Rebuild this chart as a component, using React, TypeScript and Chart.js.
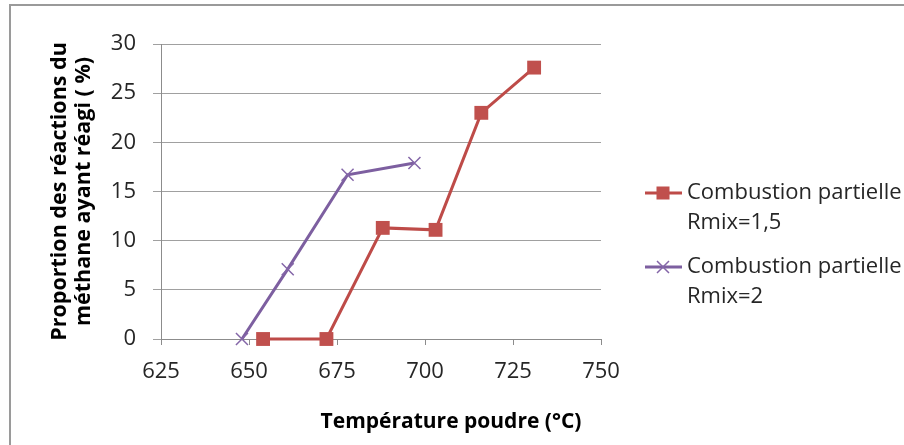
import React, { useEffect, useRef } from "react";
import { Chart, registerables } from "chart.js";

Chart.register(...registerables);

// ---- data ----
const xAxisTitle = "Température poudre (°C)";
const yAxisTitle = ["Proportion des réactions du", "méthane ayant réagi ( %)"];
const seriesNames = [
  ["Combustion partielle", "Rmix=1,5"],
  ["Combustion partielle", "Rmix=2"],
];
const tempRmix15 = [654, 672, 688, 703, 716, 731];
const propRmix15 = [0, 0, 11.3, 11.1, 23.0, 27.6];
const tempRmix2 = [648, 661, 678, 697];
const propRmix2 = [0, 7.1, 16.7, 17.9];
const xTicksRange = [625, 750, 25];
const yTicksRange = [0, 30, 5];

const FONT = '"Open Sans", sans-serif';

export default function App() {
  const ref = useRef<HTMLCanvasElement>(null);

  useEffect(() => {
    const canvas = ref.current;
    if (!canvas) return;

    const chromePlugin = {
      id: "chrome",
      beforeDraw(chart: any) {
        const ctx = chart.ctx;
        ctx.save();
        ctx.fillStyle = "#ffffff";
        ctx.fillRect(0, 0, chart.width, chart.height);
        ctx.strokeStyle = "#9a9a9a";
        ctx.lineWidth = 2;
        ctx.strokeRect(10, 5, 1200, 1200);
        ctx.restore();
      },
      afterDraw(chart: any) {
        const ctx = chart.ctx;
        ctx.save();
        // legend
        const rows = [193, 267];
        chart.data.datasets.forEach((ds: any, i: number) => {
          const y = rows[i];
          ctx.strokeStyle = ds.borderColor;
          ctx.lineWidth = ds.borderWidth;
          ctx.beginPath();
          ctx.moveTo(645, y);
          ctx.lineTo(682, y);
          ctx.stroke();
          const cx = 663;
          if (ds.pointStyle === "rect") {
            ctx.fillStyle = ds.pointBackgroundColor;
            ctx.fillRect(cx - 6.5, y - 6.5, 13, 13);
          } else {
            ctx.strokeStyle = ds.pointBorderColor;
            ctx.lineWidth = ds.pointBorderWidth;
            ctx.beginPath();
            ctx.moveTo(cx - 6, y - 6);
            ctx.lineTo(cx + 6, y + 6);
            ctx.moveTo(cx - 6, y + 6);
            ctx.lineTo(cx + 6, y - 6);
            ctx.stroke();
          }
          ctx.fillStyle = "#262626";
          ctx.font = `22px ${FONT}`;
          ctx.textAlign = "left";
          ctx.textBaseline = "middle";
          seriesNames[i].forEach((line, k) => {
            ctx.fillText(line, 687, y + k * 30);
          });
        });
        // x axis title
        ctx.fillStyle = "#000000";
        ctx.font = `bold 21px ${FONT}`;
        ctx.textAlign = "center";
        ctx.textBaseline = "middle";
        ctx.fillText(xAxisTitle, 451, 422);
        ctx.restore();
      },
    };

    const chart = new Chart(canvas, {
      type: "line",
      data: {
        datasets: [
          {
            label: seriesNames[0].join(" "),
            data: tempRmix15.map((x, i) => ({ x, y: propRmix15[i] })),
            borderColor: "#BE4B48",
            borderWidth: 3,
            pointStyle: "rect",
            pointRadius: 9.8,
            pointBackgroundColor: "#C0504D",
            pointBorderColor: "#B9433F",
            pointBorderWidth: 0,
            tension: 0,
            clip: false,
          },
          {
            label: seriesNames[1].join(" "),
            data: tempRmix2.map((x, i) => ({ x, y: propRmix2[i] })),
            borderColor: "#7D5FA0",
            borderWidth: 3,
            pointStyle: "crossRot",
            pointRadius: 8.5,
            pointBackgroundColor: "#7F63A3",
            pointBorderColor: "#8466A8",
            pointBorderWidth: 1.5,
            tension: 0,
            clip: false,
          },
        ],
      },
      options: {
        animation: false,
        responsive: false,
        devicePixelRatio: 1,
        layout: { padding: { left: 48, right: 303, top: 44, bottom: 0 } },
        plugins: {
          legend: { display: false },
          tooltip: { enabled: false },
        },
        scales: {
          x: {
            type: "linear",
            min: xTicksRange[0],
            max: xTicksRange[1],
            ticks: {
              stepSize: xTicksRange[2],
              font: { family: FONT, size: 22 },
              color: "#262626",
              padding: 14,
              maxRotation: 0,
            },
            grid: {
              drawOnChartArea: false,
              drawTicks: true,
              tickLength: 6,
              color: "#8c8c8c",
            },
            border: { display: true, color: "#8c8c8c" },
            afterFit(scale: any) {
              scale.height = 106;
            },
          },
          y: {
            type: "linear",
            min: yTicksRange[0],
            max: yTicksRange[1],
            ticks: {
              stepSize: yTicksRange[2],
              font: { family: FONT, size: 22 },
              color: "#262626",
              padding: 17,
            },
            grid: {
              drawOnChartArea: true,
              drawTicks: true,
              tickLength: 8,
              color: "#a0a0a0",
            },
            border: { display: true, color: "#8c8c8c" },
            title: {
              display: true,
              text: yAxisTitle,
              font: { family: FONT, size: 21.5, weight: "bold", lineHeight: 1.1 },
              color: "#000000",
              padding: 0,
            },
            afterFit(scale: any) {
              scale.width = 113;
            },
          },
        },
      },
      plugins: [chromePlugin],
    } as any);

    return () => chart.destroy();
  }, []);

  return (
    <div style={{ position: "fixed", left: 0, top: 0, width: 904, height: 445 }}>
      <canvas ref={ref} width={904} height={445} style={{ display: "block", width: 904, height: 445 }} />
    </div>
  );
}
